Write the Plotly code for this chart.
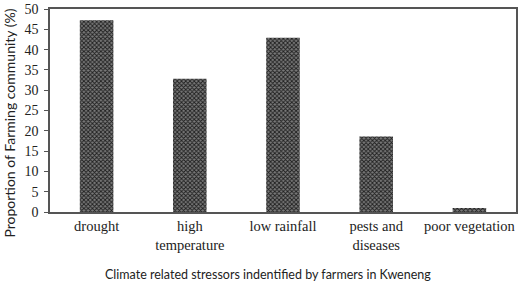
import plotly.graph_objects as go

categories = ["drought", "high<br>temperature", "low rainfall", "pests and<br>diseases", "poor vegetation"]
values = [47.2, 32.8, 42.9, 18.6, 1.0]
y_ticks = [0, 5, 10, 15, 20, 25, 30, 35, 40, 45, 50]

fig = go.Figure()
fig.add_trace(go.Bar(
    x=categories, y=values,
    marker=dict(
        color="#6a6a6a",
        line=dict(width=0),
        pattern=dict(shape="x", fgcolor="#1e1e1e", bgcolor="#7a7a7a", size=3, solidity=0.5, fillmode="replace"),
    ),
    width=0.36,
))

fig.update_layout(
    width=520, height=284,
    margin=dict(l=50, r=2, t=5, b=72),
    paper_bgcolor="white", plot_bgcolor="white",
    showlegend=False,
    font=dict(family="Liberation Serif", size=13, color="#222"),
    annotations=[
        dict(text="Proportion of Farming community (%)", textangle=-90,
             xref="paper", yref="paper", x=-0.086, y=0.44, xanchor="center", yanchor="middle",
             showarrow=False, font=dict(family="Lato", size=14, color="#222")),
        dict(text="Climate related stressors indentified by farmers in Kweneng",
             xref="paper", yref="paper", x=0.468, y=-0.31, xanchor="center", yanchor="middle",
             showarrow=False, font=dict(family="Lato", size=12.5, color="#222")),
    ],
)
fig.update_xaxes(showline=True, linecolor="#555", linewidth=1.5, mirror=True,
                 ticks="", tickfont=dict(family="Liberation Serif", size=14.5, color="#222"))
fig.update_yaxes(range=[0, 50], tickvals=y_ticks, showgrid=False, zeroline=False,
                 showline=True, linecolor="#555", linewidth=1.5, mirror=True,
                 ticks="outside", ticklen=4, tickcolor="#555", ticklabeloverflow="allow",
                 ticklabelstandoff=3,
                 tickfont=dict(family="Liberation Serif", size=14, color="#222"))

fig.write_html("out.html")
